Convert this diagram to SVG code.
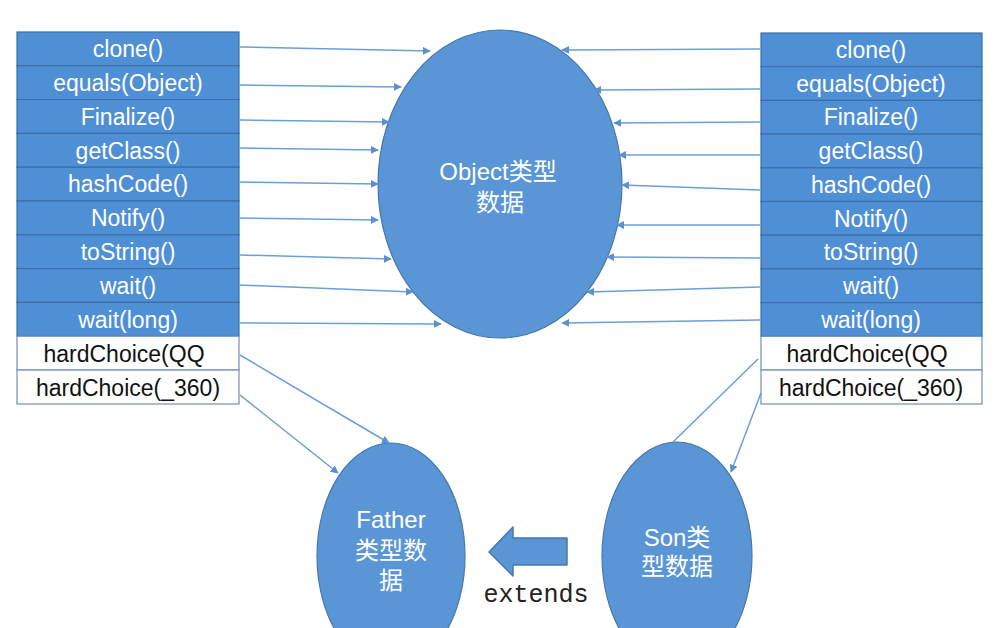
<svg xmlns="http://www.w3.org/2000/svg" width="993" height="628" viewBox="0 0 993 628">
<style>
.row{fill:#4f8fd6;stroke:#3b6fa8;stroke-width:1.2}
.wrow{fill:#ffffff;stroke:#6f90b8;stroke-width:1.2}
.t{font-family:"Liberation Sans","Noto Sans CJK SC",sans-serif;font-size:23px;text-anchor:middle}
.tw{fill:#ffffff}
.tb{fill:#111111}
.ell{fill:#5a96d6;stroke:#4577ad;stroke-width:1.2}
.et{font-family:"Liberation Sans","Noto Sans CJK SC",sans-serif;font-size:24px;fill:#ffffff;text-anchor:middle}
.c{stroke:#6a9fd8;stroke-width:1.5;fill:none}
</style>
<defs>
<marker id="ah" viewBox="0 0 10 10" refX="9" refY="5" markerWidth="8" markerHeight="8" markerUnits="userSpaceOnUse" orient="auto">
<path d="M0,0 L10,5 L0,10 Z" fill="#5a90d0"/>
</marker>
</defs>
<rect width="993" height="628" fill="#ffffff"/>

<g id="left-table">
<rect class="row" x="17" y="32" width="222" height="33.8"/>
<rect class="row" x="17" y="65.8" width="222" height="33.8"/>
<rect class="row" x="17" y="99.6" width="222" height="33.8"/>
<rect class="row" x="17" y="133.4" width="222" height="33.8"/>
<rect class="row" x="17" y="167.2" width="222" height="33.8"/>
<rect class="row" x="17" y="201" width="222" height="33.8"/>
<rect class="row" x="17" y="234.8" width="222" height="33.8"/>
<rect class="row" x="17" y="268.6" width="222" height="33.8"/>
<rect class="row" x="17" y="302.4" width="222" height="33.8"/>
<rect class="wrow" x="17" y="336.2" width="222" height="33.8"/>
<rect class="wrow" x="17" y="370" width="222" height="34"/>
<text class="t tw" x="128" y="57">clone()</text>
<text class="t tw" x="128" y="91">equals(Object)</text>
<text class="t tw" x="128" y="125">Finalize()</text>
<text class="t tw" x="128" y="159">getClass()</text>
<text class="t tw" x="128" y="192">hashCode()</text>
<text class="t tw" x="128" y="226">Notify()</text>
<text class="t tw" x="128" y="260">toString()</text>
<text class="t tw" x="128" y="294">wait()</text>
<text class="t tw" x="128" y="328">wait(long)</text>
<text class="t tb" x="124" y="362">hardChoice(QQ</text>
<text class="t tb" x="128" y="396">hardChoice(_360)</text>
</g>

<g id="right-table">
<rect class="row" x="761" y="33" width="221" height="33.7"/>
<rect class="row" x="761" y="66.7" width="221" height="33.7"/>
<rect class="row" x="761" y="100.4" width="221" height="33.7"/>
<rect class="row" x="761" y="134.1" width="221" height="33.7"/>
<rect class="row" x="761" y="167.8" width="221" height="33.7"/>
<rect class="row" x="761" y="201.5" width="221" height="33.7"/>
<rect class="row" x="761" y="235.2" width="221" height="33.7"/>
<rect class="row" x="761" y="268.9" width="221" height="33.7"/>
<rect class="row" x="761" y="302.6" width="221" height="33.7"/>
<rect class="wrow" x="761" y="336.3" width="221" height="33.7"/>
<rect class="wrow" x="761" y="370" width="221" height="34"/>
<text class="t tw" x="871" y="58">clone()</text>
<text class="t tw" x="871" y="92">equals(Object)</text>
<text class="t tw" x="871" y="125">Finalize()</text>
<text class="t tw" x="871" y="159">getClass()</text>
<text class="t tw" x="871" y="193">hashCode()</text>
<text class="t tw" x="871" y="227">Notify()</text>
<text class="t tw" x="871" y="260">toString()</text>
<text class="t tw" x="871" y="294">wait()</text>
<text class="t tw" x="871" y="328">wait(long)</text>
<text class="t tb" x="867" y="362">hardChoice(QQ</text>
<text class="t tb" x="871" y="396">hardChoice(_360)</text>
</g>

<g id="object-node">
<ellipse class="ell" cx="500" cy="184" rx="122" ry="154"/>
<text class="et" x="498" y="180">Object类型</text>
<text class="et" x="500" y="211">数据</text>
</g>

<g id="father-node">
<ellipse class="ell" cx="391" cy="556" rx="74" ry="113"/>
<text class="et" x="391" y="528">Father</text>
<text class="et" x="391" y="559">类型数</text>
<text class="et" x="391" y="589">据</text>
</g>

<g id="son-node">
<ellipse class="ell" cx="677" cy="556" rx="75" ry="114"/>
<text class="et" x="677" y="546">Son类</text>
<text class="et" x="677" y="575">型数据</text>
</g>

<g id="extends-arrow">
<path d="M489,552 L513,527 L513,538 L567,538 L567,565 L513,565 L513,576 Z" fill="#5a96d6" stroke="#4577ad" stroke-width="1.5" stroke-linejoin="round"/>
<text x="536" y="602" font-family="'Liberation Mono',monospace" font-size="25" fill="#222222" text-anchor="middle">extends</text>
</g>

<g id="connectors">
<line class="c" x1="240" y1="47" x2="430" y2="51" marker-end="url(#ah)"/>
<line class="c" x1="240" y1="85" x2="401" y2="87" marker-end="url(#ah)"/>
<line class="c" x1="240" y1="120" x2="389" y2="122" marker-end="url(#ah)"/>
<line class="c" x1="240" y1="148" x2="378" y2="150" marker-end="url(#ah)"/>
<line class="c" x1="240" y1="182" x2="378" y2="184" marker-end="url(#ah)"/>
<line class="c" x1="240" y1="218" x2="378" y2="220" marker-end="url(#ah)"/>
<line class="c" x1="240" y1="255" x2="391" y2="259" marker-end="url(#ah)"/>
<line class="c" x1="240" y1="285" x2="413" y2="292" marker-end="url(#ah)"/>
<line class="c" x1="240" y1="323" x2="441" y2="324" marker-end="url(#ah)"/>

<line class="c" x1="760" y1="49" x2="562" y2="50" marker-end="url(#ah)"/>
<line class="c" x1="760" y1="89" x2="594" y2="90" marker-end="url(#ah)"/>
<line class="c" x1="760" y1="122" x2="614" y2="123" marker-end="url(#ah)"/>
<line class="c" x1="760" y1="155" x2="619" y2="155" marker-end="url(#ah)"/>
<line class="c" x1="760" y1="190" x2="622" y2="185" marker-end="url(#ah)"/>
<line class="c" x1="760" y1="225" x2="617" y2="225" marker-end="url(#ah)"/>
<line class="c" x1="760" y1="258" x2="607" y2="257" marker-end="url(#ah)"/>
<line class="c" x1="760" y1="287" x2="587" y2="292" marker-end="url(#ah)"/>
<line class="c" x1="760" y1="320" x2="562" y2="323" marker-end="url(#ah)"/>

<line class="c" x1="240" y1="355" x2="389" y2="443" marker-end="url(#ah)"/>
<line class="c" x1="240" y1="395" x2="338" y2="473" marker-end="url(#ah)"/>
<line class="c" x1="758" y1="359" x2="673" y2="442"/>
<line class="c" x1="761" y1="393" x2="731" y2="472" marker-end="url(#ah)"/>
</g>
</svg>
